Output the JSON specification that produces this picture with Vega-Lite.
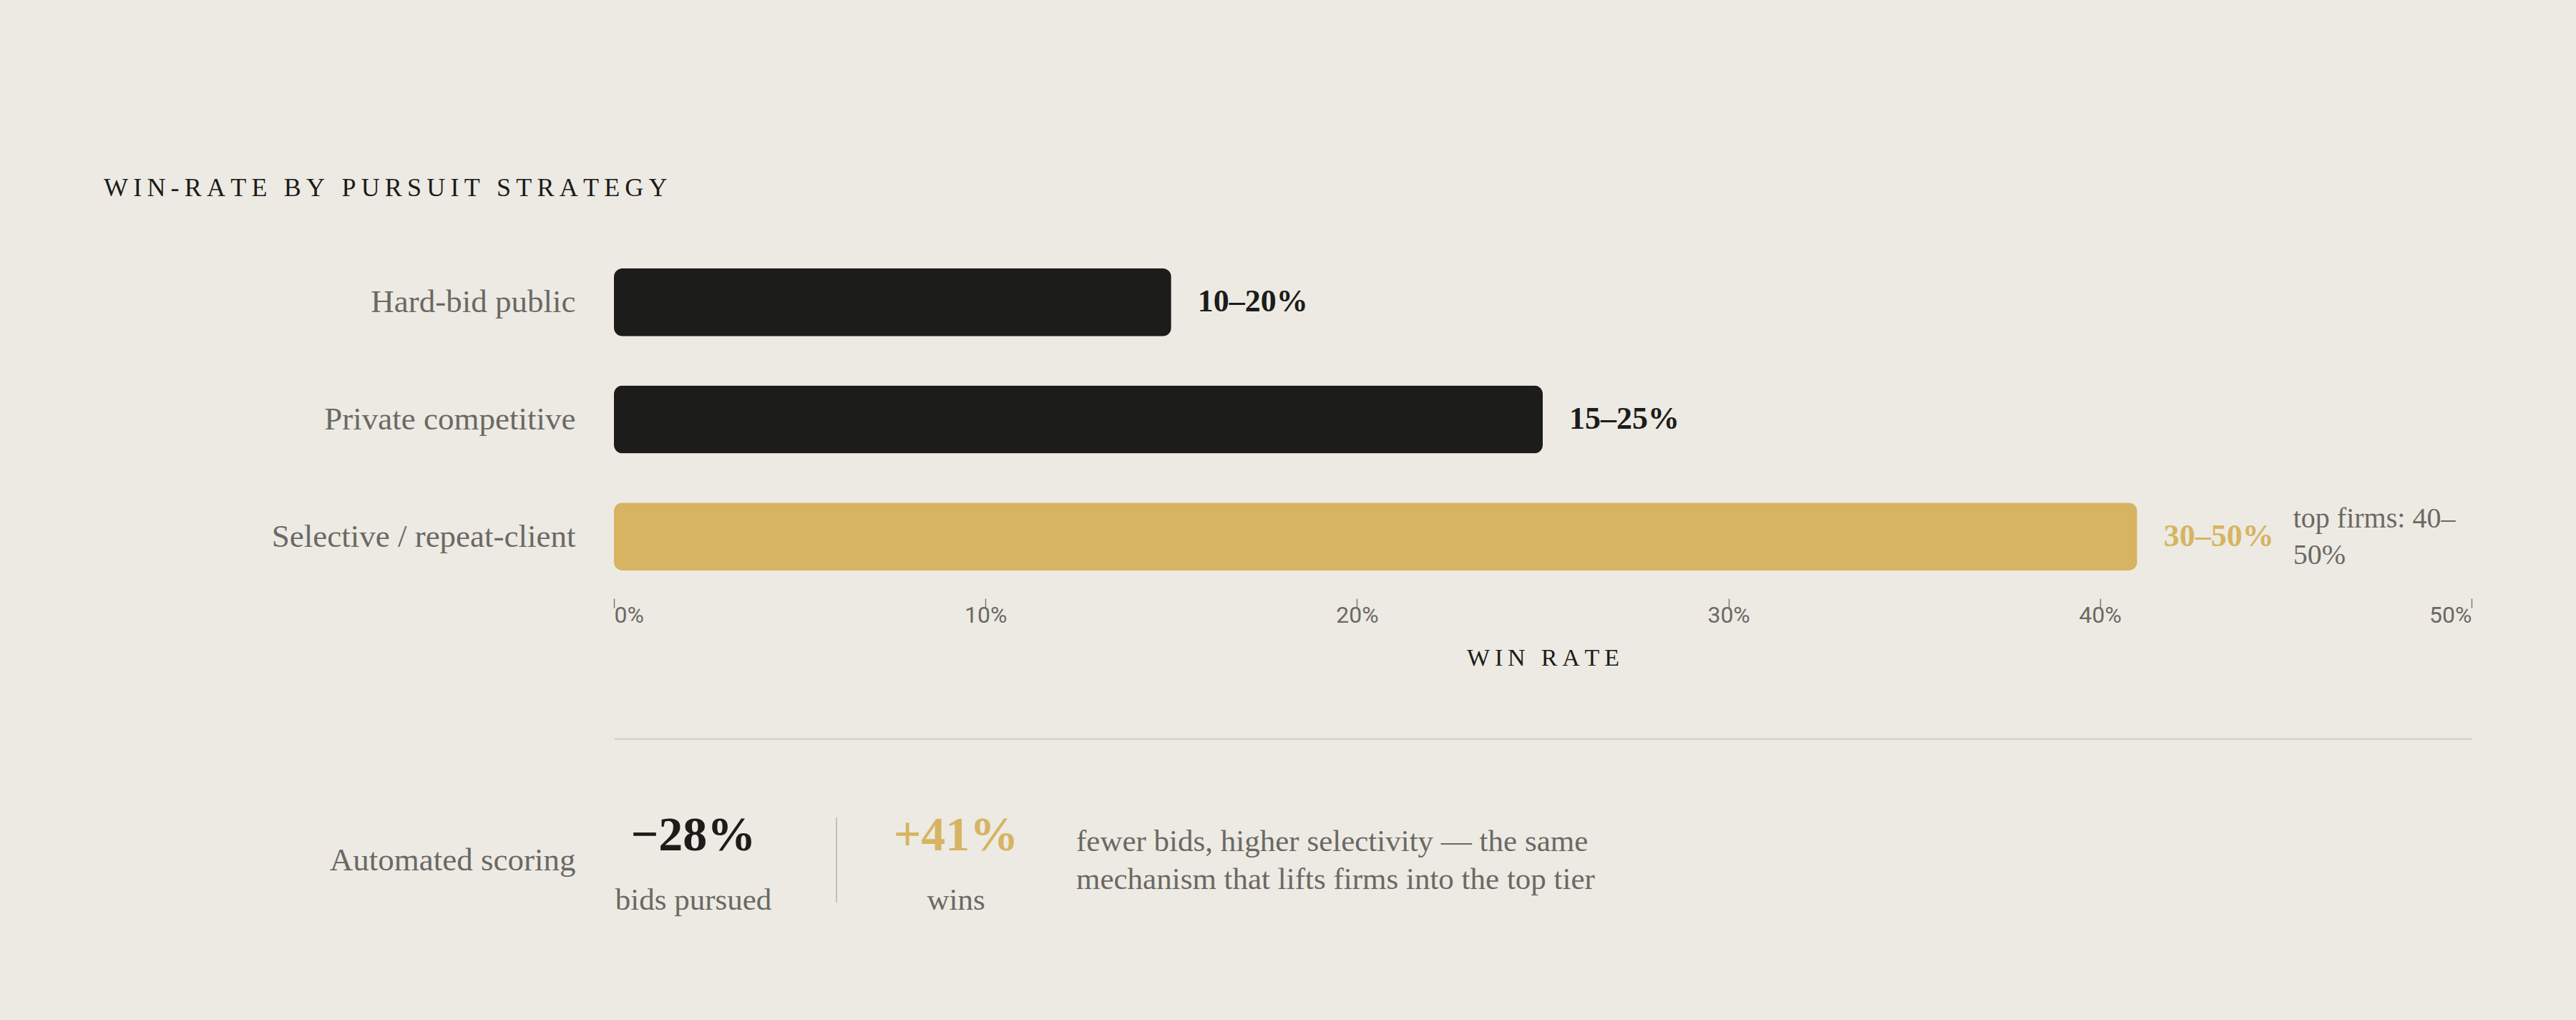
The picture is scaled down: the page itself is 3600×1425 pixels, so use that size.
{
  "$schema": "https://vega.github.io/schema/vega-lite/v6.json",
  "background": "#edeae3",
  "padding": {"left": 145, "right": 145, "top": 245, "bottom": 55},
  "title": {
    "text": "W\u2009I\u2009N\u2009-\u2009R\u2009A\u2009T\u2009E\u2009 \u2009B\u2009Y\u2009 \u2009P\u2009U\u2009R\u2009S\u2009U\u2009I\u2009T\u2009 \u2009S\u2009T\u2009R\u2009A\u2009T\u2009E\u2009G\u2009Y",
    "anchor": "start",
    "frame": "group",
    "dx": -713,
    "offset": 54,
    "baseline": "top",
    "font": "Liberation Serif",
    "fontSize": 36,
    "fontWeight": "normal",
    "color": "#1c1c1a"
  },
  "datasets": {
    "bars": [
      {"strategy": "Hard-bid public", "high": 15, "range": "10–20%", "tier": "base"},
      {"strategy": "Private competitive", "high": 25, "range": "15–25%", "tier": "base"},
      {"strategy": "Selective / repeat-client", "high": 41, "range": "30–50%", "tier": "top", "note": "top firms: 40–\n50%"}
    ],
    "stats": [
      {"row": "Automated scoring", "col": 0, "stat": "−28%", "caption": "bids pursued", "tier": "base"},
      {"row": "Automated scoring", "col": 1, "kind": "divider"},
      {"row": "Automated scoring", "col": 2, "stat": "+41%", "caption": "wins", "tier": "top"},
      {"row": "Automated scoring", "col": 3, "note": "fewer bids, higher selectivity — the same\nmechanism that lifts firms into the top tier"}
    ]
  },
  "bounds": "flush",
  "spacing": 196,
  "vconcat": [
    {
      "data": {"name": "bars"},
      "width": 2596,
      "height": 500,
      "encoding": {
        "y": {
          "field": "strategy",
          "type": "nominal",
          "sort": null,
          "scale": {"paddingInner": 0.42, "paddingOuter": 0.238},
          "axis": {
            "title": null,
            "domain": false,
            "ticks": false,
            "labelPadding": 54,
            "labelFont": "Liberation Serif",
            "labelFontSize": 45,
            "labelColor": "#6a6964",
            "labelLimit": 1000
          }
        },
        "x": {
          "field": "high",
          "type": "quantitative",
          "scale": {"domain": [0, 50], "nice": false},
          "axis": {
            "values": [0, 10, 20, 30, 40, 50],
            "labelExpr": "datum.value + '%'",
            "domain": false,
            "ticks": true,
            "tickSize": 13,
            "tickColor": "#7b7a74",
            "tickWidth": 1.5,
            "labelFlush": true,
            "labelPadding": -5,
            "labelFont": "Roboto",
            "labelFontSize": 32,
            "labelColor": "#6a6964",
            "title": "W\u2009I\u2009N\u2009 \u2009R\u2009A\u2009T\u2009E",
            "titleFont": "Liberation Serif",
            "titleFontSize": 34,
            "titleFontWeight": "normal",
            "titleColor": "#1c1c1a",
            "titlePadding": 27
          }
        }
      },
      "layer": [
        {
          "mark": {"type": "bar", "cornerRadius": 12},
          "encoding": {
            "color": {
              "field": "tier",
              "type": "nominal",
              "scale": {"domain": ["base", "top"], "range": ["#1c1c1a", "#d6b462"]},
              "legend": null
            }
          }
        },
        {
          "mark": {
            "type": "text",
            "align": "left",
            "baseline": "middle",
            "dx": 37,
            "font": "Liberation Serif",
            "fontSize": 44,
            "fontWeight": "bold"
          },
          "encoding": {
            "text": {"field": "range"},
            "color": {
              "field": "tier",
              "type": "nominal",
              "scale": {"domain": ["base", "top"], "range": ["#1c1c1a", "#d6b462"]},
              "legend": null
            }
          }
        },
        {
          "transform": [{"filter": "isValid(datum.note)"}],
          "mark": {
            "type": "text",
            "align": "left",
            "baseline": "middle",
            "dx": 218,
            "dy": -25,
            "font": "Liberation Serif",
            "fontSize": 40,
            "lineHeight": 51,
            "lineBreak": "\n",
            "color": "#6a6964"
          },
          "encoding": {"text": {"field": "note"}}
        }
      ]
    },
    {
      "data": {"name": "stats"},
      "width": 2596,
      "height": 339,
      "encoding": {
        "y": {
          "field": "row",
          "type": "nominal",
          "axis": {
            "title": null,
            "domain": false,
            "ticks": false,
            "labelPadding": 54,
            "labelFont": "Liberation Serif",
            "labelFontSize": 45,
            "labelColor": "#6a6964",
            "labelLimit": 1000
          }
        },
        "x": {
          "field": "col",
          "type": "quantitative",
          "scale": {
            "domain": [-1, 0, 1, 2, 3, 4],
            "range": [0, 111, 311, 478, 646, 2596],
            "nice": false,
            "zero": false
          },
          "axis": {
            "orient": "top",
            "title": null,
            "labels": false,
            "ticks": false,
            "grid": false,
            "domain": true,
            "domainColor": "#cfccc5",
            "domainWidth": 2
          }
        }
      },
      "layer": [
        {
          "transform": [{"filter": "isValid(datum.stat)"}],
          "mark": {
            "type": "text",
            "baseline": "middle",
            "dy": -34,
            "font": "Liberation Serif",
            "fontSize": 68,
            "fontWeight": "bold"
          },
          "encoding": {
            "text": {"field": "stat"},
            "color": {
              "field": "tier",
              "type": "nominal",
              "scale": {"domain": ["base", "top"], "range": ["#1c1c1a", "#d6b462"]},
              "legend": null
            }
          }
        },
        {
          "transform": [{"filter": "isValid(datum.caption)"}],
          "mark": {
            "type": "text",
            "baseline": "middle",
            "dy": 56,
            "font": "Liberation Serif",
            "fontSize": 43,
            "color": "#6a6964"
          },
          "encoding": {"text": {"field": "caption"}}
        },
        {
          "transform": [{"filter": "datum.kind == 'divider'"}],
          "mark": {"type": "tick", "orient": "vertical", "size": 119, "thickness": 2, "color": "#c3c1ba", "opacity": 1}
        },
        {
          "transform": [{"filter": "isValid(datum.note)"}],
          "mark": {
            "type": "text",
            "align": "left",
            "baseline": "middle",
            "dy": -26,
            "font": "Liberation Serif",
            "fontSize": 43,
            "lineHeight": 53,
            "lineBreak": "\n",
            "color": "#6a6964"
          },
          "encoding": {"text": {"field": "note"}}
        }
      ]
    }
  ],
  "config": {
    "view": {"stroke": null},
    "axis": {"grid": false}
  }
}
